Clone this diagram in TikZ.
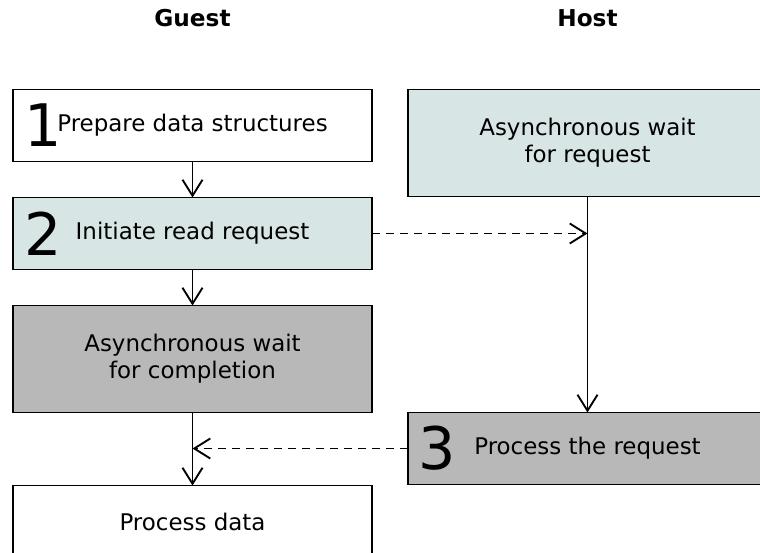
\documentclass[tikz,border=0pt]{standalone}
\usepackage{fontspec}
\setmainfont{DejaVu Sans}
\usetikzlibrary{arrows.meta}
\usetikzlibrary{positioning}
\definecolor{waitblue}{RGB}{216,229,229}
\definecolor{busygray}{RGB}{184,184,184}
\tikzset{
  task/.style={draw=black, line width=1.4pt, minimum width=269.25pt, minimum height=54pt,
    inner sep=0pt, outer sep=0pt, align=center, font=\fontsize{17.2}{20.5}\selectfont},
  tall/.style={minimum height=80.25pt},
  num/.style={font=\fontsize{44}{48}\selectfont, inner sep=0pt, anchor=west},
  head/.style={font=\bfseries\fontsize{17.4}{20}\selectfont},
  flow/.style={-{Straight Barb[length=12pt,width=15pt]}, line width=1.4pt},
  msg/.style={flow, dash pattern=on 6pt off 4.5pt}
}
\begin{document}
\begin{tikzpicture}[x=0.75pt, y=-0.75pt, node distance=27pt]
      \useasboundingbox (0,0) rectangle (760,553);

      \node[task] (prep) at (192.5,125.5) {Prepare data structures};
      \node[task, fill=waitblue, below=of prep] (init) {Initiate read request};
      \node[task, tall, fill=busygray, below=of init] (gwait) {Asynchronous wait\\for completion};
      \node[task, below=54.75pt of gwait] (use) {Process data};
      \node[task, tall, fill=waitblue, right=27pt of prep.north east, anchor=north west] (hwait) {Asynchronous wait\\for request};
      \node[task, fill=busygray, below=162pt of hwait] (proc) {Process the request};

      \node[num] at ([xshift=8.75pt]prep.west) {1};
      \node[num] at ([xshift=8.75pt]init.west) {2};
      \node[num] at ([xshift=7.5pt]proc.west) {3};

      \node[head] (guest) at (prep |- 0,18) {Guest};
      \node[head] (host) at (hwait |- 0,18) {Host};

      \coordinate (hline) at (hwait.south |- init.east);
      \coordinate (gline) at (gwait.south |- proc.west);

      \draw[flow] (prep) -- (init);
      \draw[flow] (init) -- (gwait);
      \draw[flow] (gwait) -- (use);
      \draw[flow] (hwait) -- (proc);
      \draw[msg] (init) -- (hline);
      \draw[msg] (proc) -- (gline);
\end{tikzpicture}
\end{document}
